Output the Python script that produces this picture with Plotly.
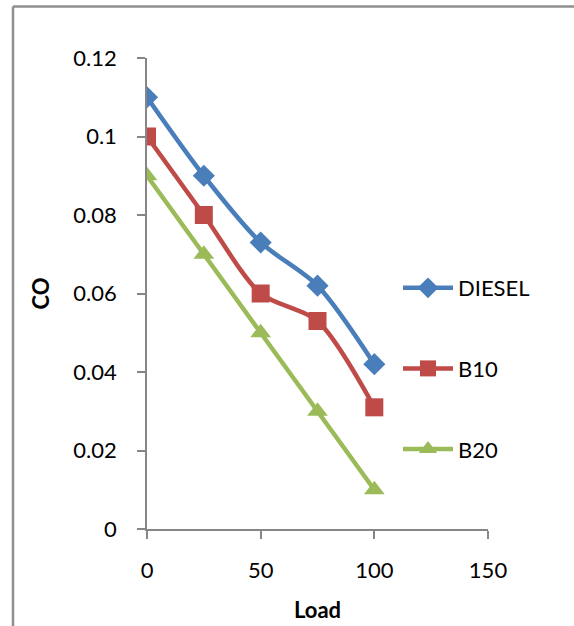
import plotly.graph_objects as go

load = [0, 25, 50, 75, 100]
diesel = [0.11, 0.09, 0.073, 0.062, 0.042]
b10 = [0.10, 0.08, 0.06, 0.053, 0.031]
b20 = [0.09, 0.07, 0.05, 0.03, 0.01]
series_names = ["DIESEL", "B10", "B20"]
x_ticks = [0, 50, 100, 150]
y_ticks = [0, 0.02, 0.04, 0.06, 0.08, 0.1, 0.12]
y_tick_text = ["0", "0.02", "0.04", "0.06", "0.08", "0.1", "0.12"]

W, H = 574, 626
L, R, T, B = 147, 86, 58, 97
FONT = "Lato, 'Liberation Sans', sans-serif"

fig = go.Figure()
styles = [
    ("#4A7EBB", "diamond", 17),
    ("#BE4B48", "square", 18),
    ("#9BBB59", "triangle-up", 18),
]
for i, (name, ys) in enumerate(zip(series_names, [diesel, b10, b20])):
    c, sym, sz = styles[i]
    fig.add_trace(go.Scatter(
        x=load, y=ys, name=name, mode="lines+markers",
        line=dict(color=c, width=4.5, shape="spline", smoothing=0.8),
        marker=dict(symbol=sym, size=sz, color=c, line=dict(width=0)),
        legendgroup=name,
    ))

pw = W - L - R
ph = H - T - B
def px_x(p):
    return (p - L) / pw
def px_y(p):
    return (H - B - p) / ph

fig.update_layout(
    width=W, height=H,
    margin=dict(l=L, r=R, t=T, b=B, autoexpand=False),
    paper_bgcolor="white", plot_bgcolor="white",
    font=dict(family=FONT, size=22, color="black"),
    showlegend=True,
    legend=dict(
        x=px_x(398), y=px_y(267), xanchor="left", yanchor="top",
        tracegroupgap=49, font=dict(size=22), bgcolor="rgba(0,0,0,0)",
        itemwidth=50,
    ),
    xaxis=dict(
        range=[0, 150], tickvals=x_ticks, showgrid=False, zeroline=False,
        showline=True, linecolor="#868686", linewidth=1.5,
        ticks="outside", ticklen=8, tickcolor="#868686", tickwidth=1.5,
        ticklabelstandoff=13, automargin=False,
        title=dict(text="<b>Load</b>", font=dict(size=22), standoff=20),
    ),
    yaxis=dict(
        range=[0, 0.12], tickvals=y_ticks, ticktext=y_tick_text,
        showgrid=False, zeroline=False,
        showline=True, linecolor="#868686", linewidth=1.5,
        ticks="outside", ticklen=8, tickcolor="#868686", tickwidth=1.5,
        ticklabelstandoff=16, automargin=False,
        title=dict(text="<b>CO</b>", font=dict(size=22), standoff=18),
    ),
    shapes=[
        dict(type="line", xref="paper", yref="paper",
             x0=px_x(13), x1=px_x(574), y0=px_y(6.5), y1=px_y(6.5),
             line=dict(color="#8F8F8F", width=2.5)),
        dict(type="line", xref="paper", yref="paper",
             x0=px_x(13), x1=px_x(13), y0=px_y(6.5), y1=px_y(626),
             line=dict(color="#8F8F8F", width=2.5)),
    ],
)

fig.write_html("out.html")
